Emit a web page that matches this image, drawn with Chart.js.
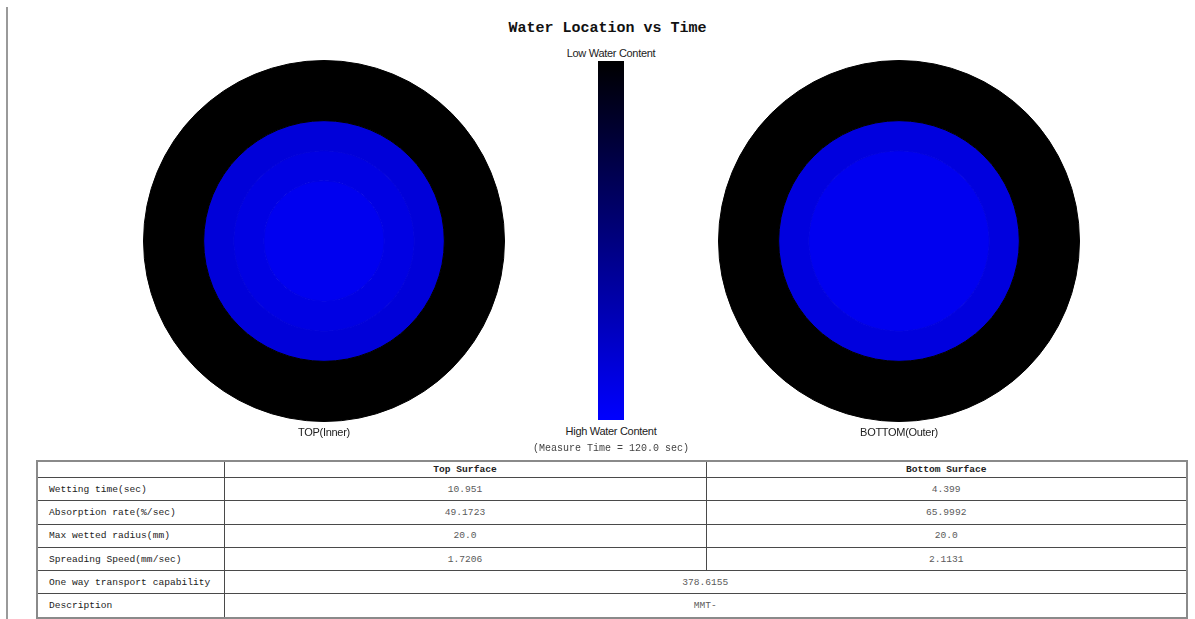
<!DOCTYPE html>
<html>
<head>
<meta charset="utf-8">
<title>Water Location vs Time</title>
<script src="https://cdn.jsdelivr.net/npm/chart.js@4/dist/chart.umd.min.js"></script>
<style>
  html, body { margin: 0; padding: 0; background: #ffffff; }
  body { width: 1195px; height: 619px; position: relative; overflow: hidden; }
  .abs { position: absolute; }
  .rule { left: 6px; top: 7px; width: 2px; height: 612px; background: #9a9a9a; }
  .title { left: 0; width: 1215px; top: 20px; line-height: 20px; text-align: center;
           font: bold 15px "Liberation Mono", "Courier New", monospace; color: #111; }
  .lbl { font-family: "Liberation Sans", Arial, sans-serif; font-size: 11px; line-height: 14px;
         letter-spacing: -0.3px; color: #222; text-align: center; white-space: nowrap; }
  .mono { font-family: "Liberation Mono", "Courier New", monospace; font-size: 10px; line-height: 12px;
          color: #444; text-align: center; white-space: nowrap; }
  .bar { left: 598px; top: 61px; width: 26px; height: 359px; }
  table { position: absolute; left: 36px; top: 460px; width: 1150px;
          border-collapse: collapse; border: 2px solid #8a8a8a; table-layout: fixed;
          font-family: "Liberation Mono", "Courier New", monospace; font-size: 9.6px; }
  td { border: 1px solid #4a4a4a; padding: 0; height: 22.3px; text-align: center; color: #5a5a5a; }
  td.k { text-align: left; padding-left: 11px; color: #222; }
  tr.h td { height: 15px; font-weight: bold; color: #222; }
</style>
</head>
<body>
<div class="abs rule"></div>
<div class="abs title">Water Location vs Time</div>

<canvas id="topChart" class="abs" width="370" height="370" style="left:139px; top:56px;"></canvas>
<canvas id="bottomChart" class="abs" width="370" height="370" style="left:714px; top:56px;"></canvas>

<div class="abs lbl" style="left:511px; width:200px; top:46px;">Low Water Content</div>
<div id="scaleBar" class="abs bar"></div>
<div class="abs lbl" style="left:511px; width:200px; top:424px;">High Water Content</div>
<div class="abs mono" style="left:511px; width:200px; top:443px;">(Measure Time = 120.0 sec)</div>

<div class="abs lbl" style="left:224px; width:200px; top:425px;">TOP(Inner)</div>
<div class="abs lbl" style="left:799px; width:200px; top:425px;">BOTTOM(Outer)</div>

<table id="results"></table>

<script>
// Wetted zones, outermost first: outer edge radius (mm) and water content (0 = dry, 1 = saturated)
const topRadiiMm = [30, 20, 15, 10];
const topContent = [0, 0.85, 0.89, 0.94];
const bottomRadiiMm = [30, 20, 15];
const bottomContent = [0, 0.87, 0.94];

// Summary table
const rowLabels = ['Wetting time(sec)', 'Absorption rate(%/sec)', 'Max wetted radius(mm)', 'Spreading Speed(mm/sec)'];
const topSurface = ['10.951', '49.1723', '20.0', '1.7206'];
const bottomSurface = ['4.399', '65.9992', '20.0', '2.1131'];
const transportCapability = '378.6155';
const description = 'MMT-';

// Water content -> colour on the black-to-blue scale
function contentColor(v) {
  return 'rgb(0,0,' + Math.round(255 * v) + ')';
}

document.getElementById('scaleBar').style.background =
  'linear-gradient(to bottom, ' + contentColor(0) + ', ' + contentColor(1) + ')';

function ringDatasets(radii, content) {
  return radii.map((r, i) => {
    const inner = i + 1 < radii.length ? radii[i + 1] : 0;
    const c = contentColor(content[i]);
    return {
      data: [1],
      weight: r - inner,
      backgroundColor: c,
      borderColor: c,
      borderWidth: 1,
      hoverOffset: 0
    };
  });
}

function drawZones(id, radii, content) {
  new Chart(document.getElementById(id), {
    type: 'doughnut',
    data: { labels: ['zone'], datasets: ringDatasets(radii, content) },
    options: {
      responsive: false,
      animation: false,
      events: [],
      cutout: 0,
      layout: { padding: 4 },
      plugins: { legend: { display: false }, tooltip: { enabled: false } }
    }
  });
}

drawZones('topChart', topRadiiMm, topContent);
drawZones('bottomChart', bottomRadiiMm, bottomContent);

// Build the results table
const table = document.getElementById('results');
const colgroup = document.createElement('colgroup');
[187, 482, 481].forEach(w => {
  const col = document.createElement('col');
  col.style.width = w + 'px';
  colgroup.appendChild(col);
});
table.appendChild(colgroup);

function addRow(cells, cls) {
  const tr = document.createElement('tr');
  if (cls) tr.className = cls;
  cells.forEach((c, i) => {
    const td = document.createElement('td');
    td.textContent = c.text;
    if (c.span) td.colSpan = c.span;
    if (i === 0 && cls !== 'h') td.className = 'k';
    tr.appendChild(td);
  });
  table.appendChild(tr);
}

addRow([{ text: '' }, { text: 'Top Surface' }, { text: 'Bottom Surface' }], 'h');
rowLabels.forEach((label, i) => {
  addRow([{ text: label }, { text: topSurface[i] }, { text: bottomSurface[i] }]);
});
addRow([{ text: 'One way transport capability' }, { text: transportCapability, span: 2 }]);
addRow([{ text: 'Description' }, { text: description, span: 2 }]);
</script>
</body>
</html>
